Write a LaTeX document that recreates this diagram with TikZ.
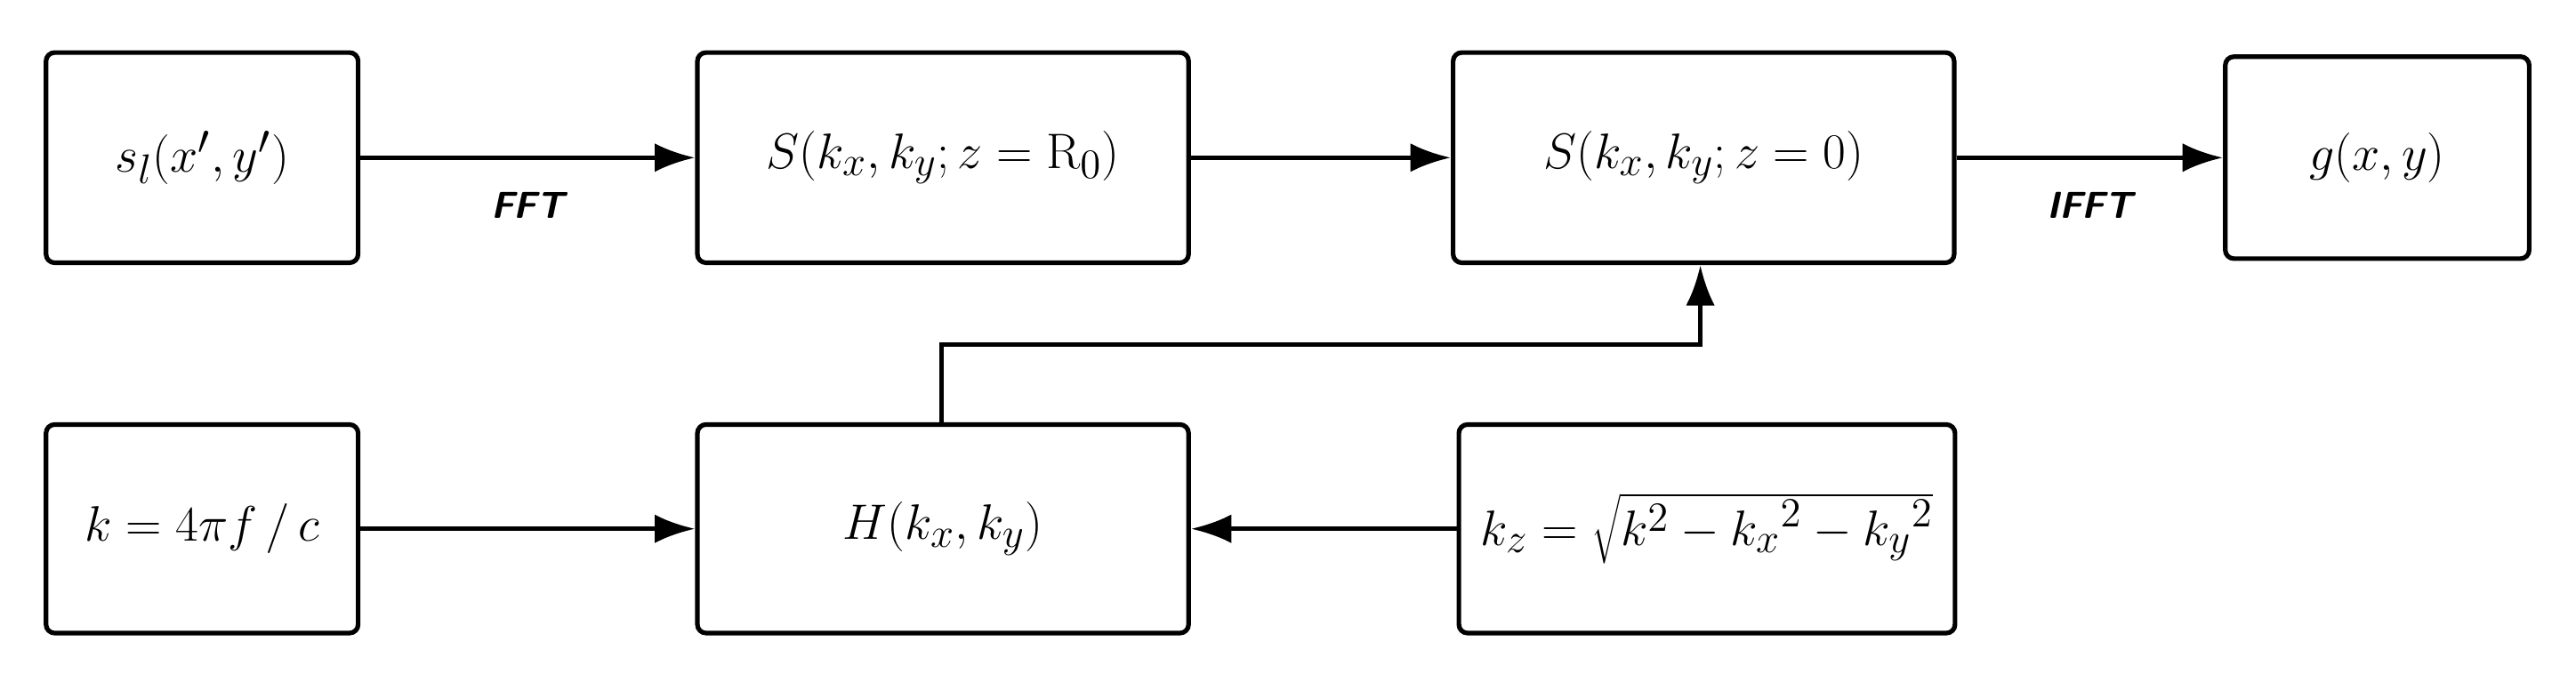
\documentclass[tikz,border=0pt]{standalone}
\usetikzlibrary{arrows.meta}
\begin{document}
\begin{tikzpicture}[x=0.02cm,y=-0.02cm,
 box/.style={draw,line width=1.6pt,rounded corners=3pt,inner sep=0pt,font=\fontsize{19}{23}\selectfont},
 arr/.style={line width=1.6pt,-{Latex[length=14pt,width=10pt]}},
 lab/.style={font=\sffamily\bfseries\itshape\fontsize{13}{15}\selectfont}]
\useasboundingbox (0,0) rectangle (1568,415);
\node[box,minimum width=190*0.02cm,minimum height=128*0.02cm] (a) at (123,96) {$s_l(x',y')$};
\node[box,minimum width=299*0.02cm,minimum height=128*0.02cm] (b) at (574,96) {$S(k_x,k_y;z=\mathrm{R}_0)$};
\node[box,minimum width=305*0.02cm,minimum height=128*0.02cm] (c) at (1037,96) {$S(k_x,k_y;z=0)$};
\node[box,minimum width=185*0.02cm,minimum height=123*0.02cm] (d) at (1447,96) {$g(x,y)$};
\node[box,minimum width=190*0.02cm,minimum height=127*0.02cm] (e) at (123,322) {$k=4\pi f\,/\,c$};
\node[box,minimum width=299*0.02cm,minimum height=127*0.02cm] (f) at (574,322) {$H(k_x,k_y)$};
\node[box,minimum width=302*0.02cm,minimum height=127*0.02cm] (g) at (1039,322) {$k_z=\sqrt{k^2-{k_x}^2-{k_y}^2}$};
\draw[arr] (a) -- (b) node[lab,midway,below=8pt] {FFT};
\draw[arr] (b) -- (c);
\draw[arr] (c) -- (d) node[lab,midway,below=8pt] {IFFT};
\draw[arr] (e) -- (f);
\draw[arr] (g) -- (f);
\coordinate (t1) at (573,210);
\coordinate (t2) at (1035,210);
\draw[arr] (f.north -| t1) -- (t1) -- (t2) -- (c.south -| t2);
\end{tikzpicture}
\end{document}
